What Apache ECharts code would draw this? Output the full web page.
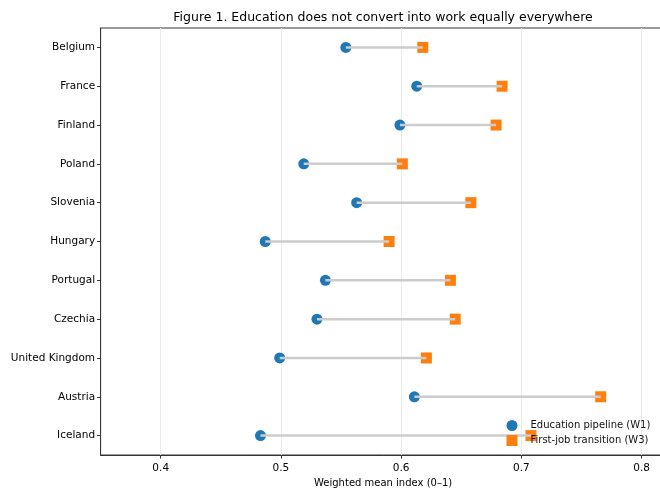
<!DOCTYPE html>
<html><head><meta charset="utf-8">
<script src="https://cdn.jsdelivr.net/npm/echarts@6/dist/echarts.min.js"></script>
<style>html,body{margin:0;padding:0;overflow:hidden;background:#fff;width:660px;height:488px}#c{width:670px;height:488px}</style>
</head><body><div id="c"></div>
<script>
const countries = ["Belgium","France","Finland","Poland","Slovenia","Hungary","Portugal","Czechia","United Kingdom","Austria","Iceland"];
const w1 = [0.554,0.613,0.599,0.519,0.563,0.487,0.537,0.530,0.499,0.611,0.483];
const w3 = [0.618,0.684,0.679,0.601,0.658,0.590,0.641,0.645,0.621,0.766,0.708];
const xTicks = [0.4,0.5,0.6,0.7,0.8];

const font = 'DejaVu Sans';
const chart = echarts.init(document.getElementById('c'));
chart.setOption({
  animation:false,
  title:{text:'Figure 1. Education does not convert into work equally everywhere',left:383,textAlign:'center',top:11,padding:0,
    textStyle:{fontFamily:font,fontSize:12.5,fontWeight:'normal',color:'#000'}},
  grid:{left:100.6,right:4.4,top:28,bottom:33,show:true,borderColor:'#333',borderWidth:1,outerBoundsMode:'none',containLabel:false},
  legend:{orient:'vertical',left:506.5,top:420,padding:0,itemWidth:27,itemHeight:11,itemGap:4,
    textStyle:{fontFamily:font,fontSize:10,color:'#111'},
    data:[{name:'Education pipeline (W1)',icon:'circle'},{name:'First-job transition (W3)',icon:'path://M0,0L10,0L10,10L0,10Z'}]},
  xAxis:{type:'value',min:0.35,max:0.82,interval:0.1,
    name:'Weighted mean index (0–1)',nameLocation:'middle',nameGap:18.5,
    nameTextStyle:{fontFamily:font,fontSize:10,color:'#000'},
    axisLine:{show:true,onZero:false,lineStyle:{color:'#333'}},
    axisTick:{show:true,length:3.5,lineStyle:{color:'#333'},customValues:xTicks},
    axisLabel:{fontFamily:font,fontSize:10.5,color:'#000',margin:7.5,customValues:xTicks,formatter:v=>String(v)},
    splitLine:{show:true,lineStyle:{color:'#ebebeb',width:1}}},
  yAxis:{type:'category',data:countries,inverse:true,
    axisLine:{show:true,lineStyle:{color:'#333'}},
    axisTick:{show:true,length:3.5,alignWithLabel:true,lineStyle:{color:'#333'}},
    axisLabel:{fontFamily:font,fontSize:10.5,color:'#000',margin:5.5},
    splitLine:{show:false}},
  series:[
    {name:'Education pipeline (W1)',type:'scatter',symbol:'circle',symbolSize:11,z:2,
      itemStyle:{color:'#1f77b4',opacity:1},data:countries.map((c,i)=>[w1[i],c])},
    {name:'First-job transition (W3)',type:'scatter',symbol:'rect',symbolSize:11,z:2,
      itemStyle:{color:'#ff7f0e',opacity:1},data:countries.map((c,i)=>[w3[i],c])},
    {type:'custom',z:3,silent:true,data:countries.map((c,i)=>[w1[i],w3[i],i]),
      renderItem:(params,api)=>{
        const a=api.coord([api.value(0),api.value(2)]);
        const b=api.coord([api.value(1),api.value(2)]);
        return {type:'line',shape:{x1:a[0],y1:a[1],x2:b[0],y2:b[1]},style:{stroke:'#cccccc',lineWidth:2.5}};
      }}
  ]
});
</script></body></html>
